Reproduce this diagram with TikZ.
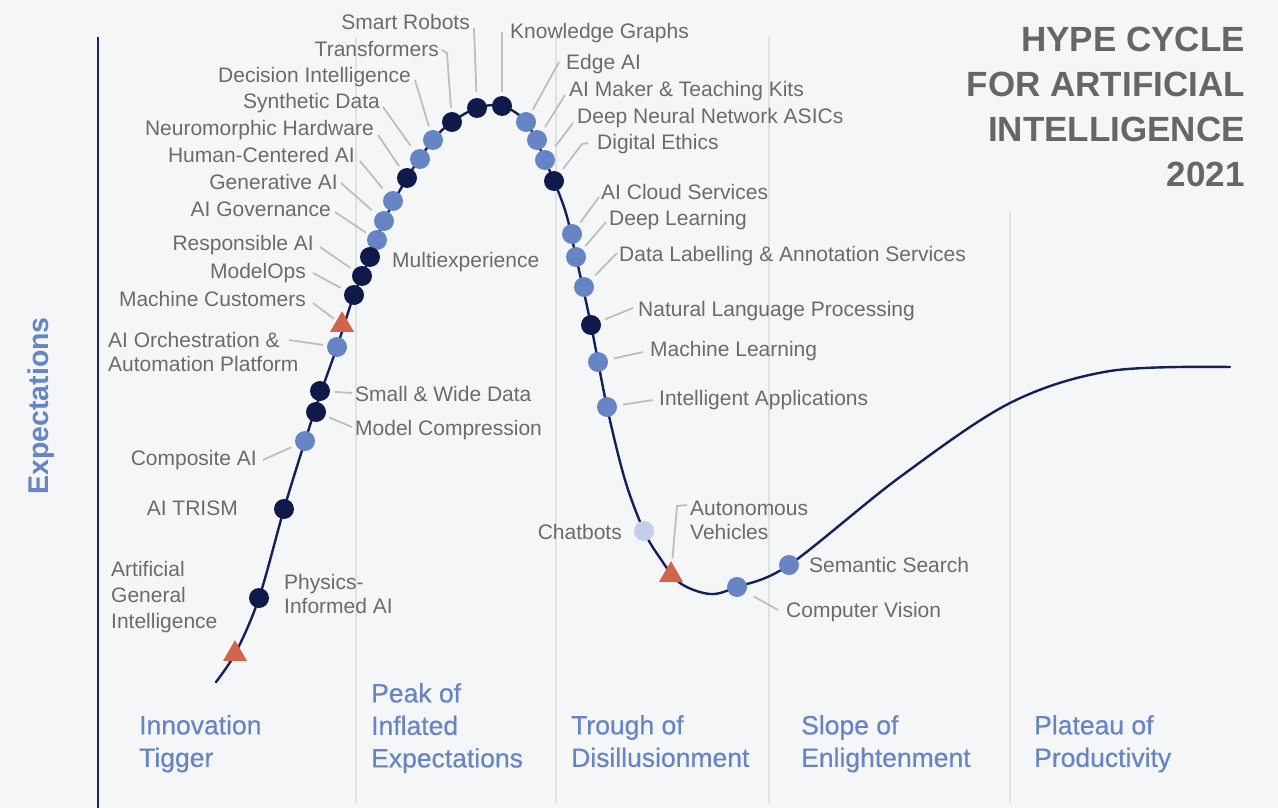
\documentclass[tikz,border=0pt]{standalone}
\usepackage{fontspec}
\setmainfont{Liberation Sans}
\newfontfamily\medfont[FakeBold=0.5]{Liberation Sans}
\usetikzlibrary{calc,shapes.geometric}
\definecolor{bg}{HTML}{F5F6F7}
\definecolor{dk}{HTML}{0F1A4A}
\definecolor{lt}{HTML}{6785C5}
\definecolor{pale}{HTML}{C3CEE8}
\definecolor{tri}{HTML}{D0644C}
\definecolor{txt}{HTML}{6B6B6B}
\definecolor{ldrc}{HTML}{BEBEBE}
\definecolor{ph}{HTML}{6785C5}
\definecolor{curvec}{HTML}{13205A}
\definecolor{axisc}{HTML}{1E2A5E}
\definecolor{divc}{HTML}{E1E1E1}
\definecolor{titlec}{HTML}{666666}
\tikzset{
  dot/.style={circle, inner sep=0pt, minimum size=20pt},
  dkdot/.style={dot, fill=dk},
  ltdot/.style={dot, fill=lt},
  pldot/.style={dot, fill=pale},
  tridot/.style={regular polygon, regular polygon sides=3, inner sep=0pt, minimum size=27.7pt, fill=tri},
  lbl/.style={inner sep=0pt, text=txt, font=\fontsize{21}{25}\selectfont, text height=14.8pt, text depth=0pt},
  mlbl/.style={inner sep=0pt, text=txt, font=\fontsize{21}{24}\selectfont, align=left, anchor=north west},
  ldr/.style={draw=ldrc, line width=1.8pt},
  phase/.style={inner sep=0pt, text=ph, font=\medfont\fontsize{26.5}{32.5}\selectfont, align=left, anchor=north west},
  divider/.style={draw=divc, line width=2pt},
}
\begin{document}
\begin{tikzpicture}[x=1pt,y=-1pt]
\fill[bg] (0,0) rectangle (1278,808);
\useasboundingbox (0,0) rectangle (1278,808);
% axis and dividers
\draw[draw=axisc, line width=2.2pt] (98,37) -- (98,808);
\draw[divider] (356,37) -- (356,803);
\draw[divider] (556,37) -- (556,803);
\draw[divider] (769,37) -- (769,803);
\draw[divider] (1010,212) -- (1010,803);
% title
\node[anchor=north east, align=right, inner sep=0pt, text=titlec, font=\bfseries\fontsize{35}{45}\selectfont] (title) at (1245,27) {HYPE CYCLE\\FOR ARTIFICIAL\\INTELLIGENCE\\2021};
\node[rotate=90, inner sep=0pt, text=ph, font=\bfseries\fontsize{28.5}{30}\selectfont] (exp) at (41,406) {Expectations};
% phases
\node[phase] (p1) at (139,715) {Innovation\\Tigger};
\node[phase] (p2) at (371,683) {Peak of\\Inflated\\Expectations};
\node[phase] (p3) at (571,715) {Trough of\\Disillusionment};
\node[phase] (p4) at (801,715) {Slope of\\Enlightenment};
\node[phase] (p5) at (1034,715) {Plateau of\\Productivity};
% curve
\draw[draw=curvec, line width=2.4pt, line cap=round] plot[smooth, tension=0.55] coordinates {
 (216,682) (236,652) (259,598) (284,509) (305,441) (320,395) (337,347) (354,295)
 (370,257) (384,221) (407,178) (433,140) (452,122) (477,108) (502,106) (526,122)
 (545,160) (565,210) (576,257) (591,325) (607,407) (625,480) (644,531) (660,558)
 (680,583) (710,594) (737,587) (789,565) (900,477) (1010,403)
 (1110,371) (1230,367)};
% labels
\node[lbl, anchor=east] (srT) at (470,22) {Smart Robots};
\node[lbl, anchor=west] (kgT) at (510,31) {Knowledge Graphs};
\node[lbl, anchor=east] (trT) at (439,49) {Transformers};
\node[lbl, anchor=east] (diT) at (411,75) {Decision Intelligence};
\node[lbl, anchor=east] (sdT) at (380,101) {Synthetic Data};
\node[lbl, anchor=east] (nhT) at (374,128) {Neuromorphic Hardware};
\node[lbl, anchor=east] (hcT) at (355,155) {Human-Centered AI};
\node[lbl, anchor=east] (geT) at (338,182) {Generative AI};
\node[lbl, anchor=east] (agT) at (331,209) {AI Governance};
\node[lbl, anchor=east] (raT) at (314,243) {Responsible AI};
\node[lbl, anchor=east] (moT) at (306,271) {ModelOps};
\node[lbl, anchor=east] (mcuT) at (306,299) {Machine Customers};
\node[mlbl] (aoT) at (108,332) {AI Orchestration \&\\Automation Platform};
\node[lbl, anchor=west] (mxT) at (392,260) {Multiexperience};
\node[lbl, anchor=west] (swT) at (355,394) {Small \& Wide Data};
\node[lbl, anchor=west] (mc2T) at (355,428) {Model Compression};
\node[lbl, anchor=east] (caT) at (257,458) {Composite AI};
\node[lbl, anchor=east] (trismT) at (238,508) {AI TRISM};
\node[mlbl, font=\fontsize{21}{26}\selectfont] (agiT) at (111,561) {Artificial\\General\\Intelligence};
\node[mlbl] (physT) at (284,574) {Physics-\\Informed AI};
\node[lbl, anchor=west] (eaT) at (566,62) {Edge AI};
\node[lbl, anchor=west] (amT) at (569,89) {AI Maker \& Teaching Kits};
\node[lbl, anchor=west] (dnT) at (577,116) {Deep Neural Network ASICs};
\node[lbl, anchor=west] (deT) at (597,142) {Digital Ethics};
\node[lbl, anchor=west] (acT) at (601,192) {AI Cloud Services};
\node[lbl, anchor=west] (dlT) at (609,218) {Deep Learning};
\node[lbl, anchor=west] (dlaT) at (619,254) {Data Labelling \& Annotation Services};
\node[lbl, anchor=west] (nlpT) at (638,309) {Natural Language Processing};
\node[lbl, anchor=west] (mlT) at (650,349) {Machine Learning};
\node[lbl, anchor=west] (iaT) at (659,398) {Intelligent Applications};
\node[lbl, anchor=east] (cbT) at (622,532) {Chatbots};
\node[mlbl] (avT) at (690,501) {Autonomous\\Vehicles};
\node[lbl, anchor=west] (ssT) at (809,565) {Semantic Search};
\node[lbl, anchor=west] (cvT) at (786,610) {Computer Vision};
% markers
\node[dkdot] (sr) at (477,108) {};
\node[dkdot] (kg) at (502,106) {};
\node[dkdot] (tr) at (452,122) {};
\node[ltdot] (di) at (433,140) {};
\node[ltdot] (sd) at (420,159) {};
\node[dkdot] (nh) at (407,178) {};
\node[ltdot] (hc) at (393,201) {};
\node[ltdot] (ge) at (384,221) {};
\node[ltdot] (ag) at (377,240) {};
\node[dkdot] (mx) at (370,257) {};
\node[dkdot] (ra) at (362,276) {};
\node[dkdot] (mo) at (354,295) {};
\node[tridot] (mcu) at (342,325) {};
\node[ltdot] (ao) at (337,347) {};
\node[dkdot] (sw) at (320,391) {};
\node[dkdot] (mc2) at (316,412) {};
\node[ltdot] (ca) at (305,441) {};
\node[dkdot] (trism) at (284,509) {};
\node[dkdot] (phys) at (259,598) {};
\node[tridot] (agi) at (235,654) {};
\node[ltdot] (ea) at (526,122) {};
\node[ltdot] (am) at (537,140) {};
\node[ltdot] (dn) at (545,160) {};
\node[dkdot] (de) at (554,181) {};
\node[ltdot] (ac) at (572,234) {};
\node[ltdot] (dl) at (576,257) {};
\node[ltdot] (dla) at (584,287) {};
\node[dkdot] (nlp) at (591,325) {};
\node[ltdot] (ml) at (598,362) {};
\node[ltdot] (ia) at (607,407) {};
\node[pldot] (cb) at (644,531) {};
\node[tridot] (av) at (671,575) {};
\node[ltdot] (cv) at (737,587) {};
\node[ltdot] (ss) at (789,565) {};
% leaders
\draw[ldr, shorten >=6pt] ($(srT.east)+(4,6)$) -- (sr);
\draw[ldr, shorten >=4pt] ($(kgT.west)+(-8,1)$) -- (kg);
\draw[ldr, shorten >=4pt] ($(trT.east)+(3,1)$) -- ($(trT.east)+(8,4)$) -- (tr);
\draw[ldr, shorten >=4pt] ($(diT.east)+(4,5)$) -- (di);
\draw[ldr, shorten >=6pt] ($(sdT.east)+(3,6)$) -- (sd);
\draw[ldr, shorten >=4pt] ($(nhT.east)+(4,7)$) -- (nh);
\draw[ldr, shorten >=6pt] ($(hcT.east)+(5,6)$) -- (hc);
\draw[ldr, shorten >=6pt] ($(geT.east)+(3,1)$) -- (ge);
\draw[ldr, shorten >=3pt] ($(agT.east)+(4,3)$) -- (ag);
\draw[ldr, shorten >=4pt] ($(raT.east)+(6,4)$) -- (ra);
\draw[ldr, shorten >=5pt] ($(moT.east)+(7,2)$) -- (mo);
\draw[ldr, shorten >=3pt] ($(mcuT.east)+(7,4)$) -- (mcu);
\draw[ldr, shorten >=4pt] ($(aoT.north west)+(181,8)$) -- (ao);
\draw[ldr, shorten >=5pt] ($(swT.west)+(-3,-1)$) -- (sw);
\draw[ldr, shorten >=4pt] ($(mc2T.west)+(-3,-1)$) -- (mc2);
\draw[ldr, shorten >=5pt] ($(caT.east)+(6,2)$) -- (ca);
\draw[ldr, shorten >=4pt] ($(eaT.west)+(-7,0)$) -- (ea);
\draw[ldr, shorten >=5pt] ($(amT.west)+(-4,6)$) -- (am);
\draw[ldr, shorten >=7pt] ($(dnT.west)+(-4,7)$) -- (dn);
\draw[ldr, shorten >=5pt] ($(deT.west)+(-9,1)$) -- ($(deT.west)+(-15,2)$) -- (de);
\draw[ldr, shorten >=4pt] ($(acT.west)+(-2,5)$) -- (ac);
\draw[ldr, shorten >=4pt] ($(dlT.west)+(-3,4)$) -- (dl);
\draw[ldr, shorten >=6pt] ($(dlaT.west)+(-2,-1)$) -- (dla);
\draw[ldr, shorten >=5pt] ($(nlpT.west)+(-5,-1)$) -- (nlp);
\draw[ldr, shorten >=6pt] ($(mlT.west)+(-7,3)$) -- (ml);
\draw[ldr, shorten >=6pt] ($(iaT.west)+(-6,2)$) -- (ia);
\draw[ldr, shorten >=4pt] ($(avT.north west)+(-3,4)$) -- ($(avT.north west)+(-13,5)$) -- (av);
\draw[ldr, shorten >=9pt] ($(cvT.west)+(-8,0)$) -- (cv);
\end{tikzpicture}
\end{document}
